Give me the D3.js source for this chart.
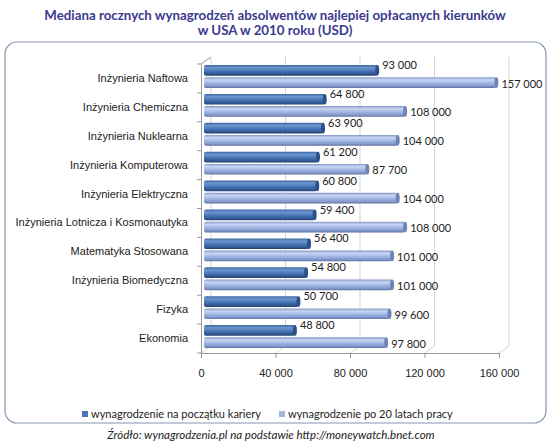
<!DOCTYPE html>
<html>
<head>
<meta charset="utf-8">
<script src="https://cdn.jsdelivr.net/npm/d3@7"></script>
<style>
  body { margin: 0; background: #fff; }
  svg { font-family: Lato, "Liberation Sans", sans-serif; }
</style>
</head>
<body>
<div id="chart"></div>
<script>
// data
var categories = ["Inżynieria Naftowa", "Inżynieria Chemiczna", "Inżynieria Nuklearna",
  "Inżynieria Komputerowa", "Inżynieria Elektryczna", "Inżynieria Lotnicza i Kosmonautyka",
  "Matematyka Stosowana", "Inżynieria Biomedyczna", "Fizyka", "Ekonomia"];
var startPay = [93000, 64800, 63900, 61200, 60800, 59400, 56400, 54800, 50700, 48800];
var after20 = [157000, 108000, 104000, 87700, 104000, 108000, 101000, 101000, 99600, 97800];
var seriesNames = ["wynagrodzenie na początku kariery", "wynagrodzenie po 20 latach pracy"];
var xTicks = [0, 40000, 80000, 120000, 160000];

var W = 550, H = 445;
var pLeft = 201, pRight = 499, pTop = 64, pBottom = 353;
var dx = 10, dy = -7; // depth of the 3d box

var svg = d3.select("#chart").append("svg").attr("width", W).attr("height", H);

var defs = svg.append("defs");
function grad(id, stops) {
  var g = defs.append("linearGradient").attr("id", id)
    .attr("x1", 0).attr("y1", 0).attr("x2", 0).attr("y2", 1);
  stops.forEach(function (s) {
    g.append("stop").attr("offset", s[0]).attr("stop-color", s[1]);
  });
}
grad("gDark", [[0, "#3d659f"], [0.25, "#6d96d0"], [0.5, "#4f7cbc"], [0.85, "#2f5791"], [1, "#223f6c"]]);
grad("gLight", [[0, "#8397c6"], [0.25, "#c9d6f2"], [0.5, "#a8bce8"], [0.85, "#7f95c9"], [1, "#5d6f9c"]]);

// title
svg.append("text").attr("x", W / 2).attr("y", 20).attr("text-anchor", "middle")
  .attr("font-size", 13.3).attr("font-weight", "bold").attr("fill", "#3b3a8e")
  .text("Mediana rocznych wynagrodzeń absolwentów najlepiej opłacanych kierunków");
svg.append("text").attr("x", W / 2).attr("y", 35).attr("text-anchor", "middle")
  .attr("font-size", 13.3).attr("font-weight", "bold").attr("fill", "#3b3a8e")
  .text("w USA w 2010 roku (USD)");

// frame
svg.append("rect").attr("x", 5).attr("y", 42).attr("width", 541).attr("height", 381)
  .attr("rx", 12).attr("fill", "#fff").attr("stroke", "#8797b3").attr("stroke-width", 1.2);

var x = d3.scaleLinear().domain([0, 160000]).range([pLeft, pRight]);
var y = d3.scaleBand().domain(categories).range([pTop, pBottom]);
var inner = d3.scaleBand().domain([0, 1]).range([1, y.bandwidth() - 5]).paddingInner(0.12);

var fmt = d3.formatLocale({ decimal: ",", thousands: "\u00a0", grouping: [3], currency: ["", ""] }).format(",d");

// back wall grid + floor
var grid = svg.append("g");
xTicks.forEach(function (t) {
  grid.append("line").attr("x1", x(t) + dx).attr("x2", x(t) + dx)
    .attr("y1", pTop + dy).attr("y2", pBottom + dy).attr("stroke", "#d4d4d4");
  grid.append("line").attr("x1", x(t)).attr("x2", x(t) + dx)
    .attr("y1", pBottom).attr("y2", pBottom + dy).attr("stroke", "#d4d4d4");
});
grid.append("line").attr("x1", pLeft).attr("x2", pLeft + dx)
  .attr("y1", pTop).attr("y2", pTop + dy).attr("stroke", "#999");

// y axis
var yAxis = svg.append("g").attr("transform", "translate(" + pLeft + ",0)")
  .call(d3.axisLeft(y).tickSize(0).tickPadding(13));
yAxis.select(".domain").attr("stroke", "#999");
yAxis.selectAll("text").attr("font-size", 11).attr("fill", "#222");
yAxis.selectAll(".sep").data(categories.concat(["end"])).enter().append("line")
  .attr("class", "sep")
  .attr("x1", -4).attr("x2", 0)
  .attr("y1", function (d, i) { return pTop + i * y.step(); })
  .attr("y2", function (d, i) { return pTop + i * y.step(); })
  .attr("stroke", "#999");

// x axis
var xAxis = svg.append("g").attr("transform", "translate(0," + pBottom + ")")
  .call(d3.axisBottom(x).tickValues(xTicks).tickFormat(fmt).tickSizeInner(5).tickSizeOuter(0).tickPadding(11));
xAxis.select(".domain").attr("stroke", "#999");
xAxis.selectAll("line").attr("stroke", "#999");
xAxis.selectAll("text").attr("font-size", 11).attr("fill", "#222");

// bars
var rows = categories.map(function (c, i) { return { cat: c, vals: [startPay[i], after20[i]] }; });
var fills = ["url(#gDark)", "url(#gLight)"];
var caps = ["#2c5088", "#6f83b4"];
var x0 = x(0) + 3;

var row = svg.selectAll(".row").data(rows).enter().append("g")
  .attr("class", "row")
  .attr("transform", function (d) { return "translate(0," + y(d.cat) + ")"; });

[0, 1].forEach(function (s) {
  var bh = inner.bandwidth();
  row.append("rect")
    .attr("x", x0).attr("y", inner(s))
    .attr("width", function (d) { return x(d.vals[s]) - x0 + 3; })
    .attr("height", bh).attr("rx", 2)
    .attr("fill", fills[s]);
  row.append("ellipse")
    .attr("cx", function (d) { return x(d.vals[s]) + 3; })
    .attr("cy", inner(s) + bh / 2).attr("rx", 2).attr("ry", bh / 2)
    .attr("fill", caps[s]);
  row.append("text")
    .attr("x", function (d) { return x(d.vals[s]) + 8; })
    .attr("y", s === 0 ? inner(s) + 4 : inner(s) + bh / 2 + 5)
    .attr("font-size", 11).attr("fill", "#222")
    .text(function (d) { return fmt(d.vals[s]); });
});

// legend
var legend = svg.append("g");
var legX = [82, 279];
seriesNames.forEach(function (n, i) {
  legend.append("rect").attr("x", legX[i]).attr("y", 411).attr("width", 6).attr("height", 6)
    .attr("fill", i === 0 ? "#4a76b5" : "#a6b6d9");
  legend.append("text").attr("x", legX[i] + 9).attr("y", 418)
    .attr("font-size", 11).attr("fill", "#222").text(n);
});

// source
svg.append("text").attr("x", W / 2 - 4).attr("y", 439).attr("text-anchor", "middle")
  .attr("font-size", 11.5).attr("font-style", "italic").attr("fill", "#222")
  .text("Źródło: wynagrodzenia.pl na podstawie http://moneywatch.bnet.com");
</script>
</body>
</html>
